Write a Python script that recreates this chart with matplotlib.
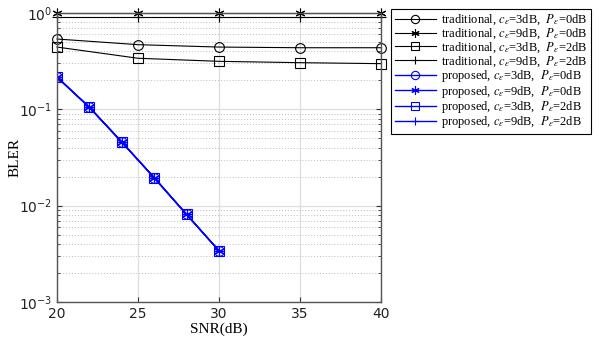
import numpy as np
import matplotlib.pyplot as plt

plt.rcParams['mathtext.fontset'] = 'stix'

snr_trad = [20, 25, 30, 35, 40]
trad_c3_p0 = [0.537, 0.469, 0.443, 0.436, 0.436]
trad_c9_p0 = [0.995, 0.995, 0.995, 0.995, 0.995]
trad_c3_p2 = [0.443, 0.339, 0.315, 0.305, 0.298]
trad_c9_p2 = [0.91, 0.91, 0.91, 0.91, 0.91]

snr_prop = [20, 22, 24, 26, 28, 30]
prop_bler = [0.216, 0.105, 0.0457, 0.0195, 0.0081, 0.0034]

labels = [
    r'traditional, $c_\epsilon$=3dB,  $P_\epsilon$=0dB',
    r'traditional, $c_\epsilon$=9dB,  $P_\epsilon$=0dB',
    r'traditional, $c_\epsilon$=3dB,  $P_\epsilon$=2dB',
    r'traditional, $c_\epsilon$=9dB,  $P_\epsilon$=2dB',
    r'proposed, $c_\epsilon$=3dB,  $P_\epsilon$=0dB',
    r'proposed, $c_\epsilon$=9dB,  $P_\epsilon$=0dB',
    r'proposed, $c_\epsilon$=3dB,  $P_\epsilon$=2dB',
    r'proposed, $c_\epsilon$=9dB,  $P_\epsilon$=2dB',
]
markers = ['o', (6, 2, 0), 's', '+']

fig = plt.figure(figsize=(5.99, 3.43), dpi=100)
ax = fig.add_axes([57 / 599, 1 - 302 / 343, 324 / 599, 289 / 343])

trad = [trad_c3_p0, trad_c9_p0, trad_c3_p2, trad_c9_p2]
for i, ys in enumerate(trad):
    ax.plot(snr_trad, ys, color='black', lw=0.8, marker=markers[i], ms=7,
            mfc='none', mec='black', mew=0.8, label=labels[i], clip_on=False)
for i in range(4):
    ax.plot(snr_prop, prop_bler, color='blue', lw=1.0, marker=markers[i], ms=7,
            mfc='none', mec='blue', mew=0.8, label=labels[4 + i])

ax.set_yscale('log')
ax.set_xlim(20, 40)
ax.set_ylim(1e-3, 1)
ax.set_xticks([20, 25, 30, 35, 40])
ax.grid(True, which='major', color='#dddddd', lw=0.9)
ax.grid(True, which='minor', color='#bbbbbb', lw=0.7, ls=(0, (1, 2)))
ax.tick_params(which='both', direction='in', top=True, right=True,
               labelsize=10, colors='#333333')
for lab in ax.get_xticklabels() + ax.get_yticklabels():
    lab.set_color('#222222')
for sp in ax.spines.values():
    sp.set_color('#555555')
    sp.set_linewidth(1.0)

ax.set_xlabel('SNR(dB)', family='Liberation Serif', fontsize=11, labelpad=1)
ax.set_ylabel('BLER', family='Liberation Serif', fontsize=11, labelpad=-2)

leg = ax.legend(loc='upper left', bbox_to_anchor=(391 / 599, 1 - 9 / 343),
                bbox_transform=fig.transFigure, prop={'family': 'Liberation Serif', 'size': 9},
                fancybox=False, edgecolor='black', framealpha=1, handlelength=3.3,
                labelspacing=-0.05, borderpad=0.3, borderaxespad=0,
                handletextpad=0.4, markerscale=0.85)
leg.get_frame().set_linewidth(0.8)

fig.savefig('out.png', dpi=100)
